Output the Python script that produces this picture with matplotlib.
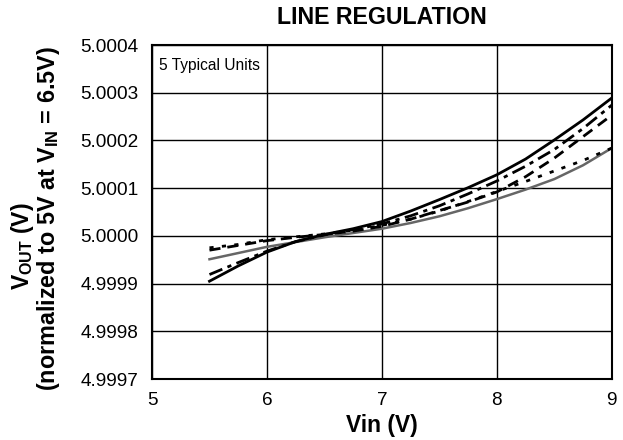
import matplotlib
matplotlib.use("Agg")
import matplotlib.pyplot as plt

plt.rcParams['font.family'] = ['Liberation Sans', 'DejaVu Sans']
plt.rcParams['mathtext.fontset'] = 'custom'
plt.rcParams['mathtext.rm'] = 'Liberation Sans:bold'
plt.rcParams['mathtext.bf'] = 'Liberation Sans:bold'
plt.rcParams['mathtext.it'] = 'Liberation Sans:bold'

vin = [5.5, 5.75, 6.0, 6.25, 6.5, 6.75, 7.0, 7.25, 7.5, 7.75, 8.0, 8.25, 8.5, 8.75, 9.0]
# deviation from 5 V (in microvolts)
dev_solid = [-95, -63, -34, -12, 3, 15, 30, 52, 76, 101, 128, 161, 201, 243, 289]
dev_gray = [-49, -36, -23, -13, -3, 6, 15, 27, 41, 58, 77, 97, 119, 148, 184]
dev_dot = [-25, -18, -8, -2, 4, 12, 22, 35, 52, 72, 93, 114, 136, 158, 184]
dev_dashdot = [-81, -56, -32, -12, 2, 13, 25, 42, 63, 88, 115, 146, 181, 225, 274]
dev_dash = [-30, -20, -10, -3, 3, 10, 20, 35, 53, 71, 92, 124, 163, 208, 253]

xticks = [5, 6, 7, 8, 9]
yticks = [4.9997, 4.9998, 4.9999, 5.0000, 5.0001, 5.0002, 5.0003, 5.0004]

fig = plt.figure(figsize=(6.23, 4.40), dpi=100)
ax = fig.add_axes([0.244, 0.1386, 0.738, 0.7591])

def v(d):
    return [5.0 + x * 1e-6 for x in d]

ax.plot(vin, v(dev_gray), color='#666666', lw=1.8)
ax.plot(vin, v(dev_dot), color='black', lw=2, linestyle=(0, (1.5, 3)))
ax.plot(vin, v(dev_dash), color='black', lw=2, linestyle=(0, (4, 2.5)))
ax.plot(vin, v(dev_dashdot), color='black', lw=2, linestyle=(0, (5, 2, 1.5, 2)))
ax.plot(vin, v(dev_solid), color='black', lw=2)

ax.set_xlim(5, 9)
ax.set_ylim(4.9997, 5.0004)
ax.set_xticks(xticks)
ax.set_xticklabels([str(x) for x in xticks])
ax.set_yticks(yticks)
ax.set_yticklabels([f"{y:.4f}" for y in yticks])
ax.grid(True, color='black', lw=1)
ax.tick_params(axis='x', length=0, labelsize=13.7, pad=9)
ax.tick_params(axis='y', length=0, labelsize=13.7, pad=10)
for s in ax.spines.values():
    s.set_linewidth(1.5)

ax.text(0.015, 0.96, '5 Typical Units', transform=ax.transAxes, fontsize=11.2,
        va='top', ha='left')

fig.text(0.613, 0.96, 'LINE REGULATION', ha='center', va='center',
         fontsize=16.7, fontweight='bold')
ax.set_xlabel('Vin (V)', fontsize=16.4, fontweight='bold', labelpad=4)
fig.text(0.036, 0.441, r'$\mathbf{V_{OUT}}$ (V)', rotation=90, ha='center', va='center',
         fontsize=16.5, fontweight='bold')
fig.text(0.078, 0.503, r'(normalized to 5V at $\mathbf{V_{IN}}$ = 6.5V)', rotation=90,
         ha='center', va='center', fontsize=16.8, fontweight='bold')

fig.savefig('out.png', dpi=100)
